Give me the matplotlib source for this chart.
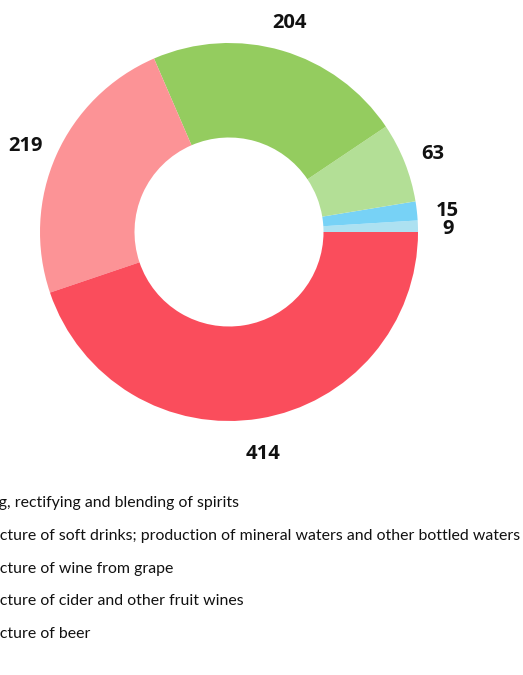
import matplotlib
matplotlib.use("Agg")
import matplotlib.pyplot as plt
import numpy as np

values = [9, 15, 63, 204, 219, 414]
colors = ["#ADE1F1", "#77D2F6", "#B3DF96", "#94CC5F", "#FC9396", "#FA4D5C"]
legend_labels = [
    "Distilling, rectifying and blending of spirits",
    "Manufacture of soft drinks; production of mineral waters and other bottled waters",
    "Manufacture of wine from grape",
    "Manufacture of cider and other fruit wines",
    "Manufacture of beer",
]

W, H = 523, 675
fig = plt.figure(figsize=(W / 100, H / 100), dpi=100)
ax = fig.add_axes([0, 0, 1, 1])
cx, cy, R = 229, 232, 189
ax.set_aspect("equal")
ax.axis("off")

wedges, _ = ax.pie(values, colors=colors, startangle=0, counterclock=True,
                   radius=1.0, wedgeprops=dict(width=0.5, edgecolor="none"),
                   frame=False)
ax.set_xlim(-cx / R, (W - cx) / R)
ax.set_ylim(-(H - cy) / R, cy / R)

for w, v in zip(wedges, values):
    ang = np.deg2rad((w.theta1 + w.theta2) / 2)
    r = 1.17
    ax.text(r * np.cos(ang) - 1.5 / R, r * np.sin(ang) - 3.5 / R, str(v),
            ha="center", va="center",
            fontsize=14.5, fontweight="bold", family=["Open Sans", "DejaVu Sans"],
            color="#111111")

# fit legend font so the visible part of the long line spans the reference width
fam = ["Lato", "DejaVu Sans"]
renderer = fig.canvas.get_renderer()
def tw(s, fs):
    t = fig.text(0, 0, s, fontsize=fs, family=fam)
    w = t.get_window_extent(renderer).width
    t.remove()
    return w
fs0 = 10.0
visible = legend_labels[1][6:]
fs = fs0 * 521.0 / tw(visible, fs0)
x0 = -tw("Manufa", fs)

for i, lab in enumerate(legend_labels):
    y = 503 + i * 32.8
    fig.text(x0 / W, 1 - y / H, lab, ha="left", va="center", fontsize=fs,
             family=fam, color="#111111")

fig.savefig("out.png", dpi=100)
